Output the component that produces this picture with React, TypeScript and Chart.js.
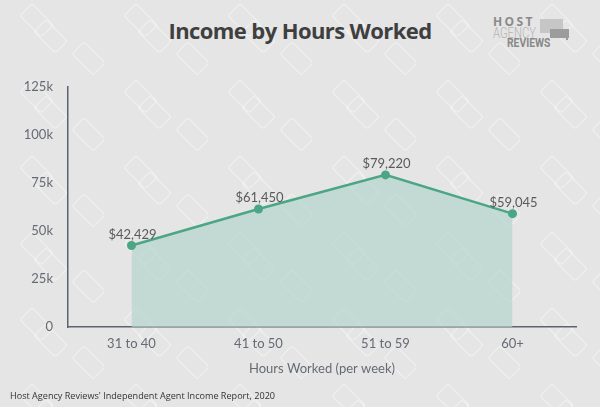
import { useEffect, useRef } from "react";
import { Chart, registerables } from "chart.js";

Chart.register(...registerables);

const categories = ["31 to 40", "41 to 50", "51 to 59", "60+"];
const incomes = [42429, 61450, 79220, 59045];
const yTicks = [0, 25000, 50000, 75000, 100000, 125000];

const fmtDollar = (v: number) => "$" + v.toLocaleString("en-US");

// faint tiled background, just decoration
const patternSvg =
  "data:image/svg+xml;utf8," +
  encodeURIComponent(
    `<svg xmlns='http://www.w3.org/2000/svg' width='104' height='76'>` +
      `<g fill='none' stroke='#ffffff' stroke-opacity='0.45' stroke-width='1'>` +
      `<rect x='22' y='12' width='30' height='17' rx='3' transform='rotate(45 37 20)'/>` +
      `<rect x='36' y='28' width='30' height='17' rx='3' transform='rotate(45 51 36)'/>` +
      `<rect x='74' y='50' width='30' height='17' rx='3' transform='rotate(45 89 58)'/>` +
      `</g></svg>`
  );

// draws "$42,429" style labels above each point
const valueLabels = {
  id: "valueLabels",
  afterDatasetsDraw(chart: Chart) {
    const ctx = chart.ctx;
    const meta = chart.getDatasetMeta(0);
    ctx.save();
    ctx.font = "13px Lato";
    ctx.fillStyle = "#5a5a5a";
    ctx.textAlign = "center";
    ctx.textBaseline = "middle";
    meta.data.forEach((pt: any, i: number) => {
      ctx.fillText(fmtDollar(incomes[i]), pt.x + 1, pt.y - 11);
    });
    ctx.restore();
  },
};

function Logo() {
  const abs = {
    position: "absolute" as const,
    whiteSpace: "nowrap" as const,
    transformOrigin: "left top",
  };
  return (
    <>
      <div style={{ ...abs, left: 540, top: 19, width: 23, height: 14, background: "#c6c6c6" }} />
      <div style={{ ...abs, left: 550, top: 29, width: 19, height: 9, background: "#9c9c9c" }} />
      <div style={{ ...abs, left: 566, top: 37, width: 2, height: 3, background: "#9c9c9c" }} />
      <div style={{ ...abs, left: 493, top: 16, font: "bold 12px 'Open Sans'", color: "#8a8a8a", letterSpacing: 2.4, lineHeight: "12px" }}>HOST</div>
      <div style={{ ...abs, left: 493, top: 26, font: "300 14px Roboto", color: "#b3b3b3", lineHeight: "14px", transform: "scaleX(0.8)" }}>AGENCY</div>
      <div style={{ ...abs, left: 507, top: 37, font: "bold 12px Roboto", color: "#888", lineHeight: "12px", transform: "scaleX(0.86)" }}>REVIEWS</div>
    </>
  );
}

export default function App() {
  const canvasRef = useRef<HTMLCanvasElement>(null);
  const chartRef = useRef<Chart | null>(null);

  useEffect(() => {
    if (!canvasRef.current) return;
    if (chartRef.current) chartRef.current.destroy();

    chartRef.current = new Chart(canvasRef.current, {
      type: "line",
      data: {
        labels: categories,
        datasets: [
          {
            data: incomes,
            borderColor: "#4aa685",
            backgroundColor: "rgba(180, 214, 204, 0.7)",
            borderWidth: 2.5,
            fill: "origin",
            tension: 0,
            pointRadius: 4.5,
            pointBackgroundColor: "#4aa685",
            pointBorderWidth: 0,
          },
        ],
      },
      options: {
        animation: false,
        responsive: false,
        maintainAspectRatio: false,
        layout: { padding: { top: 87, right: 24, bottom: 30, left: 0 } },
        plugins: {
          legend: { display: false },
          tooltip: { enabled: false },
        },
        scales: {
          x: {
            offset: true,
            grid: { display: false, drawTicks: false },
            border: { display: true, color: "#5d636e", width: 1.5 },
            ticks: { color: "#666b73", font: { family: "Lato", size: 13 }, padding: 9 },
            title: {
              display: true,
              text: "Hours Worked (per week)",
              color: "#666b73",
              font: { family: "Lato", size: 13 },
              padding: { top: 10, bottom: 0 },
            },
            afterFit(scale: any) {
              scale.height = 50;
            },
          },
          y: {
            min: 0,
            max: 125000,
            afterBuildTicks(scale: any) {
              scale.ticks = yTicks.map((v) => ({ value: v }));
            },
            grid: { display: false, drawTicks: false },
            border: { display: true, color: "#5d636e", width: 1.5 },
            ticks: {
              color: "#666b73",
              font: { family: "Lato", size: 13 },
              padding: 15,
              callback: (v: any) => (v === 0 ? "0" : v / 1000 + "k"),
            },
            afterFit(scale: any) {
              scale.width = 68;
            },
          },
        },
      },
      plugins: [valueLabels],
    });

    return () => {
      if (chartRef.current) {
        chartRef.current.destroy();
        chartRef.current = null;
      }
    };
  }, []);

  return (
    <div
      style={{
        position: "fixed",
        left: 0,
        top: 0,
        width: 600,
        height: 407,
        backgroundColor: "#e5e5e5",
        backgroundImage: `url("${patternSvg}")`,
        overflow: "hidden",
      }}
    >
      <div style={{ position: "absolute", left: 0, top: 15, width: 600, textAlign: "center", font: "bold 22px 'Open Sans'", color: "#3f3f3f", letterSpacing: -0.6 }}>
        Income by Hours Worked
      </div>
      <Logo />
      <canvas ref={canvasRef} width={600} height={407} style={{ position: "absolute", left: 0, top: 0 }} />
      <div style={{ position: "absolute", left: 10, top: 389, font: "9.1px 'Open Sans'", color: "#333" }}>
        Host Agency Reviews' Independent Agent Income Report, 2020
      </div>
    </div>
  );
}
